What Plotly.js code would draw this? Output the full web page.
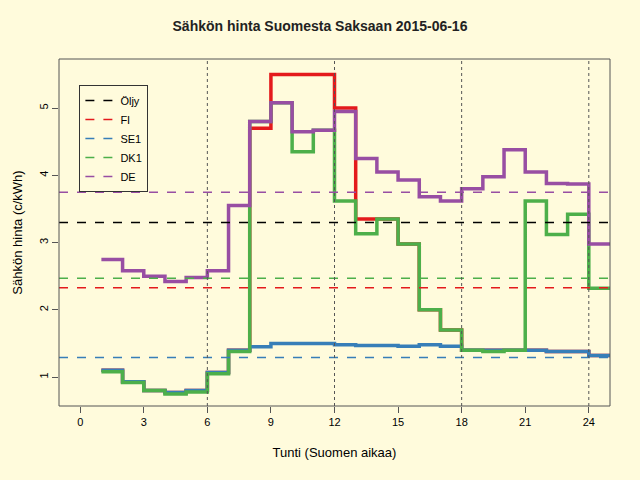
<!DOCTYPE html>
<html><head><meta charset="utf-8">
<script src="https://cdn.plot.ly/plotly-3.0.1.min.js"></script>
<style>body{margin:0;background:#fffbdc}</style></head>
<body><div id="myDiv" style="width:640px;height:480px"></div>
<script>
var hours = [1,2,3,4,5,6,7,8,9,10,11,12,13,14,15,16,17,18,19,20,21,22,23,24,25];
var fi  = [1.10,0.93,0.80,0.77,0.80,1.07,1.40,4.70,5.50,5.50,5.50,5.00,3.35,3.35,2.98,2.00,1.70,1.40,1.40,1.40,1.40,1.38,1.38,1.32,1.32];
var se1 = [1.10,0.93,0.80,0.77,0.80,1.07,1.40,1.45,1.50,1.50,1.50,1.48,1.47,1.47,1.46,1.48,1.46,1.40,1.40,1.40,1.40,1.38,1.38,1.32,1.32];
var dk1 = [1.08,0.92,0.80,0.75,0.78,1.05,1.38,4.80,5.08,4.35,4.67,3.62,3.13,3.35,2.98,2.00,1.70,1.40,1.38,1.40,3.62,3.12,3.42,2.32,2.32];
var de  = [2.75,2.58,2.50,2.42,2.48,2.58,3.55,4.80,5.08,4.65,4.67,4.95,4.25,4.05,3.93,3.68,3.62,3.80,3.98,4.38,4.05,3.88,3.87,2.98,2.98];
var names = ['Öljy','FI','SE1','DK1','DE'];
var means = [3.30,2.33,1.29,2.47,3.75];
var colors = ['#000000','#e41a1c','#377eb8','#4daf4a','#984ea3'];
var series = [null, fi, se1, dk1, de];

var data = [];
for (var i = 1; i < 5; i++) {
  data.push({x: hours, y: series[i], mode: 'lines', line: {shape: 'hv', color: colors[i], width: 3.5}, showlegend: false, hoverinfo: 'skip'});
}
for (var j = 0; j < 5; j++) {
  data.push({x: [-1, 25], y: [means[j], means[j]], mode: 'lines', name: names[j], line: {color: colors[j], width: 1.5, dash: 'dash'}});
}
var grid = [6,12,18,24].map(function(v){
  return {type:'line', xref:'x', yref:'paper', x0:v, x1:v, y0:0, y1:1, line:{color:'#555', width:1, dash:'dot'}};
});
grid.push({type:'rect', xref:'paper', yref:'paper', x0:0, x1:1, y0:0, y1:1, line:{color:'#555', width:1}});
var layout = {
  width: 640, height: 480,
  paper_bgcolor: '#fffbdc', plot_bgcolor: '#fffbdc',
  font: {family: 'Liberation Sans, Arial, sans-serif', size: 11, color: '#000'},
  margin: {l: 59, r: 30, t: 59, b: 74},
  title: {text: '<b>Sähkön hinta Suomesta Saksaan 2015-06-16</b>', font: {size: 14, color: '#222'}, x: 0.5, y: 0.945, yanchor: 'middle'},
  xaxis: {range: [-1, 25], tickvals: [0,3,6,9,12,15,18,21,24], showgrid: false, zeroline: false,
          ticks: 'outside', ticklen: 6, tickcolor: '#555', showline: false,
          title: {text: 'Tunti (Suomen aikaa)', standoff: 20}},
  yaxis: {range: [0.57, 5.73], tickvals: [1,2,3,4,5], showgrid: false, zeroline: false,
          ticks: 'outside', ticklen: 6, tickcolor: '#555', tickangle: -90, showline: false,
          title: {text: 'Sähkön hinta (c/kWh)', standoff: 12}},
  shapes: grid,
  legend: {x: 0.037, y: 0.925, xanchor: 'left', yanchor: 'top', bgcolor: 'rgba(0,0,0,0)',
           bordercolor: '#333', borderwidth: 1, font: {size: 11}, tracegroupgap: 0, itemwidth: 30}
};
Plotly.newPlot('myDiv', data, layout, {displayModeBar: false});
</script></body></html>
